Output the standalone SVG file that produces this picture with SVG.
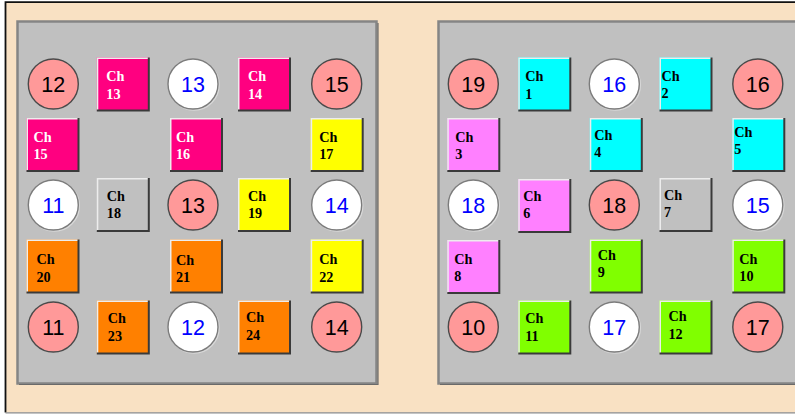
<svg xmlns="http://www.w3.org/2000/svg" width="795" height="414" viewBox="0 0 795 414">
<defs>
<style>
.frame{fill:#F9E1C3}
.panel{fill:#C0C0C0;stroke:#858585;stroke-width:2.5}
.psh{fill:none;stroke:#6a6a6a;stroke-width:1.2}
.hi{fill:none;stroke:#EDEDED;stroke-width:1.5}
.sh{fill:none;stroke:#3a3a3a;stroke-width:2}
.mag{fill:#FF0080}.yel{fill:#FFFF00}.gry{fill:#C0C0C0}.org{fill:#FF8000}
.cyn{fill:#00FFFF}.vio{fill:#FF80FF}.grn{fill:#80FF00}
.cs{fill:#FF9999;stroke:#4a4a4a;stroke-width:1.4}
.cw{fill:#FFFFFF;stroke:#7c7c7c;stroke-width:1.4}
.cwr{fill:none;stroke:#d8d8d8;stroke-width:1.5}
.num{font-family:"Liberation Sans",Arial,sans-serif;font-size:21.5px;text-anchor:middle}
.nk{fill:#000}.nb{fill:#0000FF}
.lbl{font-family:"Liberation Serif","Times New Roman",serif;font-weight:bold;font-size:14.2px;fill:#000}
.w{fill:#FFFFFF}
</style>
</defs>
<rect width="795" height="414" fill="#FFFFFF"/>
<rect class="frame" x="5.5" y="2.5" width="795" height="410"/>
<path d="M5.5,412.5 V2.2 H795" fill="none" stroke="#111" stroke-width="1.8"/>
<path d="M5.5,412.8 H795" fill="none" stroke="#8a8a8a" stroke-width="1.2"/>

<g id="panel-left">
<rect class="panel" x="17.5" y="21.5" width="359" height="362"/>
<path class="psh" d="M19,384.5 H378 V23"/>
</g>
<g id="panel-right">
<rect class="panel" x="438.5" y="21.5" width="370" height="362"/>
<path class="psh" d="M440,384.5 H810"/>
</g>

<!-- Left panel circles -->
<g id="c-l-12"><circle class="cs" cx="53.3" cy="84" r="25"/><text class="num nk" x="53.3" y="91.5">12</text></g>
<g id="c-l-13a"><circle class="cwr" cx="194" cy="85" r="25"/><circle class="cw" cx="193" cy="84" r="25"/><text class="num nb" x="193" y="91.5">13</text></g>
<g id="c-l-15"><circle class="cs" cx="336.7" cy="84" r="25"/><text class="num nk" x="336.7" y="91.5">15</text></g>
<g id="c-l-11a"><circle class="cwr" cx="54.3" cy="206" r="25"/><circle class="cw" cx="53.3" cy="205" r="25"/><text class="num nb" x="53.3" y="212.5">11</text></g>
<g id="c-l-13b"><circle class="cs" cx="193" cy="205" r="25"/><text class="num nk" x="193" y="212.5">13</text></g>
<g id="c-l-14a"><circle class="cwr" cx="337.7" cy="206" r="25"/><circle class="cw" cx="336.7" cy="205" r="25"/><text class="num nb" x="336.7" y="212.5">14</text></g>
<g id="c-l-11b"><circle class="cs" cx="53.3" cy="327" r="25"/><text class="num nk" x="53.3" y="334.5">11</text></g>
<g id="c-l-12b"><circle class="cwr" cx="194" cy="328" r="25"/><circle class="cw" cx="193" cy="327" r="25"/><text class="num nb" x="193" y="334.5">12</text></g>
<g id="c-l-14b"><circle class="cs" cx="336.7" cy="327" r="25"/><text class="num nk" x="336.7" y="334.5">14</text></g>

<!-- Right panel circles -->
<g id="c-r-19"><circle class="cs" cx="473.3" cy="84" r="25"/><text class="num nk" x="473.3" y="91.5">19</text></g>
<g id="c-r-16a"><circle class="cwr" cx="615.3" cy="85" r="25"/><circle class="cw" cx="614.3" cy="84" r="25"/><text class="num nb" x="614.3" y="91.5">16</text></g>
<g id="c-r-16b"><circle class="cs" cx="757.8" cy="84" r="25"/><text class="num nk" x="757.8" y="91.5">16</text></g>
<g id="c-r-18a"><circle class="cwr" cx="474.3" cy="206" r="25"/><circle class="cw" cx="473.3" cy="205" r="25"/><text class="num nb" x="473.3" y="212.5">18</text></g>
<g id="c-r-18b"><circle class="cs" cx="614.3" cy="205" r="25"/><text class="num nk" x="614.3" y="212.5">18</text></g>
<g id="c-r-15"><circle class="cwr" cx="758.8" cy="206" r="25"/><circle class="cw" cx="757.8" cy="205" r="25"/><text class="num nb" x="757.8" y="212.5">15</text></g>
<g id="c-r-10"><circle class="cs" cx="473.3" cy="327" r="25"/><text class="num nk" x="473.3" y="334.5">10</text></g>
<g id="c-r-17a"><circle class="cwr" cx="615.3" cy="328" r="25"/><circle class="cw" cx="614.3" cy="327" r="25"/><text class="num nb" x="614.3" y="334.5">17</text></g>
<g id="c-r-17b"><circle class="cs" cx="757.8" cy="327" r="25"/><text class="num nk" x="757.8" y="334.5">17</text></g>

<!-- Left panel channels -->
<g id="ch13" transform="translate(96.8,57.5)"><rect class="mag" width="52" height="53"/><path class="hi" d="M0.75,53 V0.75 H52"/><path class="sh" d="M0,53 H52 V0"/><text class="lbl w" x="9.5" y="23.5">Ch</text><text class="lbl w" x="9.5" y="41">13</text></g>
<g id="ch14" transform="translate(238,57.5)"><rect class="mag" width="52" height="53"/><path class="hi" d="M0.75,53 V0.75 H52"/><path class="sh" d="M0,53 H52 V0"/><text class="lbl w" x="10" y="23.5">Ch</text><text class="lbl w" x="10" y="41">14</text></g>
<g id="ch15" transform="translate(26.5,118)"><rect class="mag" width="52" height="53"/><path class="hi" d="M0.75,53 V0.75 H52"/><path class="sh" d="M0,53 H52 V0"/><text class="lbl w" x="7" y="23.5">Ch</text><text class="lbl w" x="7" y="41">15</text></g>
<g id="ch16" transform="translate(170,118)"><rect class="mag" width="52" height="53"/><path class="hi" d="M0.75,53 V0.75 H52"/><path class="sh" d="M0,53 H52 V0"/><text class="lbl w" x="6" y="23.5">Ch</text><text class="lbl w" x="6" y="41">16</text></g>
<g id="ch17" transform="translate(310.7,118)"><rect class="yel" width="52" height="53"/><path class="hi" d="M0.75,53 V0.75 H52"/><path class="sh" d="M0,53 H52 V0"/><text class="lbl" x="8.5" y="23.5">Ch</text><text class="lbl" x="8.5" y="41">17</text></g>
<g id="ch18" transform="translate(96.8,178)"><rect class="gry" width="52" height="53"/><path class="hi" d="M0.75,53 V0.75 H52"/><path class="sh" d="M0,53 H52 V0"/><text class="lbl" x="10" y="22.5">Ch</text><text class="lbl" x="10" y="40">18</text></g>
<g id="ch19" transform="translate(238,178)"><rect class="yel" width="52" height="53"/><path class="hi" d="M0.75,53 V0.75 H52"/><path class="sh" d="M0,53 H52 V0"/><text class="lbl" x="10" y="22.5">Ch</text><text class="lbl" x="10" y="40">19</text></g>
<g id="ch20" transform="translate(26.5,239.5)"><rect class="org" width="52" height="53"/><path class="hi" d="M0.75,53 V0.75 H52"/><path class="sh" d="M0,53 H52 V0"/><text class="lbl" x="10" y="24.5">Ch</text><text class="lbl" x="10" y="42.5">20</text></g>
<g id="ch21" transform="translate(170,239.5)"><rect class="org" width="52" height="53"/><path class="hi" d="M0.75,53 V0.75 H52"/><path class="sh" d="M0,53 H52 V0"/><text class="lbl" x="6" y="25">Ch</text><text class="lbl" x="6" y="42.5">21</text></g>
<g id="ch22" transform="translate(310.7,239.5)"><rect class="yel" width="52" height="53"/><path class="hi" d="M0.75,53 V0.75 H52"/><path class="sh" d="M0,53 H52 V0"/><text class="lbl" x="8.5" y="24.5">Ch</text><text class="lbl" x="8.5" y="42.5">22</text></g>
<g id="ch23" transform="translate(96.8,300.5)"><rect class="org" width="52" height="53"/><path class="hi" d="M0.75,53 V0.75 H52"/><path class="sh" d="M0,53 H52 V0"/><text class="lbl" x="11" y="22">Ch</text><text class="lbl" x="11" y="40">23</text></g>
<g id="ch24" transform="translate(238,300.5)"><rect class="org" width="52" height="53"/><path class="hi" d="M0.75,53 V0.75 H52"/><path class="sh" d="M0,53 H52 V0"/><text class="lbl" x="8" y="21">Ch</text><text class="lbl" x="8" y="39">24</text></g>

<!-- Right panel channels -->
<g id="ch1" transform="translate(518.3,57.5)"><rect class="cyn" width="52" height="53"/><path class="hi" d="M0.75,53 V0.75 H52"/><path class="sh" d="M0,53 H52 V0"/><text class="lbl" x="7" y="23.5">Ch</text><text class="lbl" x="7" y="41">1</text></g>
<g id="ch2" transform="translate(659.5,57.5)"><rect class="cyn" width="52" height="53"/><path class="hi" d="M0.75,53 V0.75 H52"/><path class="sh" d="M0,53 H52 V0"/><text class="lbl" x="2" y="23">Ch</text><text class="lbl" x="2" y="40">2</text></g>
<g id="ch3" transform="translate(447.3,118)"><rect class="vio" width="52" height="53"/><path class="hi" d="M0.75,53 V0.75 H52"/><path class="sh" d="M0,53 H52 V0"/><text class="lbl" x="8" y="23.5">Ch</text><text class="lbl" x="8" y="40.5">3</text></g>
<g id="ch4" transform="translate(589.8,118)"><rect class="cyn" width="52" height="53"/><path class="hi" d="M0.75,53 V0.75 H52"/><path class="sh" d="M0,53 H52 V0"/><text class="lbl" x="4.5" y="22">Ch</text><text class="lbl" x="4.5" y="39">4</text></g>
<g id="ch5" transform="translate(732.3,118)"><rect class="cyn" width="52" height="53"/><path class="hi" d="M0.75,53 V0.75 H52"/><path class="sh" d="M0,53 H52 V0"/><text class="lbl" x="2" y="18.5">Ch</text><text class="lbl" x="2" y="35.5">5</text></g>
<g id="ch6" transform="translate(518.3,179)"><rect class="vio" width="52" height="53"/><path class="hi" d="M0.75,53 V0.75 H52"/><path class="sh" d="M0,53 H52 V0"/><text class="lbl" x="5" y="22">Ch</text><text class="lbl" x="5" y="39">6</text></g>
<g id="ch7" transform="translate(659.5,178)"><rect class="gry" width="52" height="53"/><path class="hi" d="M0.75,53 V0.75 H52"/><path class="sh" d="M0,53 H52 V0"/><text class="lbl" x="4.5" y="21.5">Ch</text><text class="lbl" x="4.5" y="39">7</text></g>
<g id="ch8" transform="translate(447.3,240)"><rect class="vio" width="52" height="53"/><path class="hi" d="M0.75,53 V0.75 H52"/><path class="sh" d="M0,53 H52 V0"/><text class="lbl" x="7" y="23.5">Ch</text><text class="lbl" x="7" y="40.5">8</text></g>
<g id="ch9" transform="translate(589.8,239.5)"><rect class="grn" width="52" height="53"/><path class="hi" d="M0.75,53 V0.75 H52"/><path class="sh" d="M0,53 H52 V0"/><text class="lbl" x="8" y="20">Ch</text><text class="lbl" x="8" y="37">9</text></g>
<g id="ch10" transform="translate(732.3,239.5)"><rect class="grn" width="52" height="53"/><path class="hi" d="M0.75,53 V0.75 H52"/><path class="sh" d="M0,53 H52 V0"/><text class="lbl" x="7" y="24">Ch</text><text class="lbl" x="7" y="41">10</text></g>
<g id="ch11" transform="translate(518.3,300.5)"><rect class="grn" width="52" height="53"/><path class="hi" d="M0.75,53 V0.75 H52"/><path class="sh" d="M0,53 H52 V0"/><text class="lbl" x="7" y="22">Ch</text><text class="lbl" x="7" y="40">11</text></g>
<g id="ch12" transform="translate(659.5,300.5)"><rect class="grn" width="52" height="53"/><path class="hi" d="M0.75,53 V0.75 H52"/><path class="sh" d="M0,53 H52 V0"/><text class="lbl" x="9" y="20">Ch</text><text class="lbl" x="9" y="38">12</text></g>
</svg>
